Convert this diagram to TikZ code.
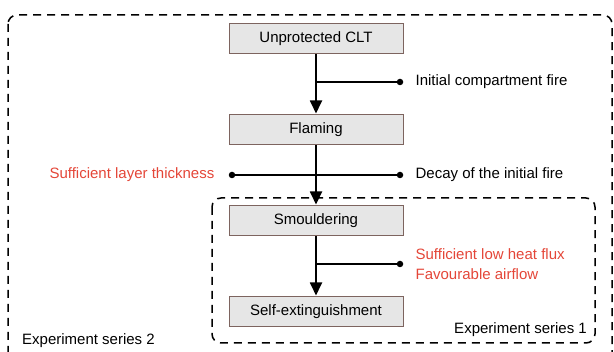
\documentclass[tikz,border=0pt]{standalone}
\usepackage{fontspec}
\setmainfont{Liberation Sans}
\definecolor{boxfill}{RGB}{230,230,230}
\definecolor{boxline}{RGB}{125,100,95}
\definecolor{condred}{RGB}{228,70,56}
\usetikzlibrary{positioning}
\usetikzlibrary{arrows.meta}
\tikzset{
  stage/.style={draw=boxline, fill=boxfill, line width=1pt, minimum width=174pt, minimum height=30pt, inner sep=0pt},
  dot/.style={circle, fill, inner sep=0pt, minimum size=6.5pt},
  cond/.style={inner sep=0pt, anchor=west},
  branch/.style={line width=1.4pt},
  flow/.style={line width=1.8pt, -{Triangle[length=13pt,width=12pt]}, shorten >=1pt},
  series/.style={dashed, line width=1.5pt, dash pattern=on 8pt off 6pt, rounded corners=9pt}
}

\begin{document}
\begin{tikzpicture}[x=1pt, y=-1pt, font=\fontsize{15}{18}\selectfont]
  \useasboundingbox (0,0) rectangle (614,352);

  % experiment series frames
  \draw [series] (8,15) rectangle (612,362);
  \draw [series] (212,198) rectangle (595,343);
  \node [anchor=east, inner sep=0pt] (ser1) at (587,330) {Experiment series 1};
  \node [anchor=west, inner sep=0pt] (ser2) at (22,341) {Experiment series 2};

  % stages
  \node [stage] (clt) at (316,39) {Unprotected CLT};
  \node [stage, below=60pt of clt] (flaming) {Flaming};
  \node [stage, below=60pt of flaming] (smoulder) {Smouldering};
  \node [stage, below=60pt of smoulder] (selfext) {Self-extinguishment};

  \draw [flow] (clt) -- (flaming);
  \draw [flow] (flaming) -- (smoulder);
  \draw [flow] (smoulder) -- (selfext);

  % conditions
  \node [dot] (d1) at (400,82) {};
  \node [cond, right=12pt of d1] (initfire) {Initial compartment fire};
  \draw [branch] (d1) -- (d1 -| clt.south);

  \node [dot] (d2l) at (232,175) {};
  \node [dot] (d2r) at (400,175) {};
  \draw [branch] (d2l) -- (d2r);
  \node [cond, anchor=east, left=14pt of d2l, text=condred] (layer) {Sufficient layer thickness};
  \node [cond, right=12pt of d2r] (decay) {Decay of the initial fire};

  \node [dot] (d3) at (400,264) {};
  \draw [branch] (d3) -- (d3 -| smoulder.south);
  \node [cond, text=condred, align=left, right=12pt of d3] (heat) {Sufficient low heat flux\\[2pt]Favourable airflow};

\end{tikzpicture}
\end{document}
